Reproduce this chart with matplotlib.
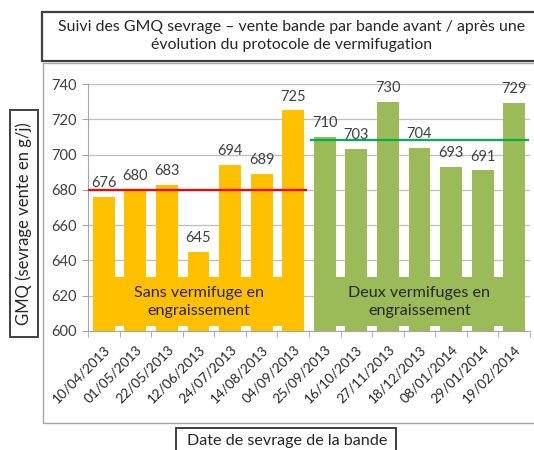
import matplotlib
matplotlib.use("Agg")
import matplotlib.pyplot as plt
from matplotlib.patches import Rectangle
import numpy as np

plt.rcParams['font.family'] = ['Lato', 'DejaVu Sans']

dates = ["10/04/2013", "01/05/2013", "22/05/2013", "12/06/2013", "24/07/2013",
         "14/08/2013", "04/09/2013", "25/09/2013", "16/10/2013", "27/11/2013",
         "18/12/2013", "08/01/2014", "29/01/2014", "19/02/2014"]
gmq = [676, 680, 683, 645, 694, 689, 725, 710, 703, 730, 704, 693, 691, 729]
n_before = 7
mean_before = 680
mean_after = 708
y_ticks = [600, 620, 640, 660, 680, 700, 720, 740]

title = "Suivi des GMQ sevrage – vente bande par bande avant / après une\névolution du protocole de vermifugation"
ylabel = "GMQ (sevrage vente en g/j)"
xlabel = "Date de sevrage de la bande"
group_labels = ["Sans vermifuge en\nengraissement", "Deux vermifuges en\nengraissement"]

orange = "#FFC000"
green = "#9BBB59"

W, H = 534, 450
fig = plt.figure(figsize=(W / 100, H / 100), dpi=100)

def fx(px):
    return px / W

def fy(py):
    return 1 - py / H

# outer chart frame
fig.patches.append(Rectangle((fx(43), fy(423)), fx(600) - fx(43), fy(63) - fy(423),
                             transform=fig.transFigure, fill=False, edgecolor="#A6A6A6", lw=1.0))
# title box
fig.patches.append(Rectangle((fx(42), fy(61)), fx(600) - fx(42), fy(12) - fy(61),
                             transform=fig.transFigure, facecolor="white", edgecolor="#404040", lw=1.6))
fig.text(fx(292), fy(36), title, ha="center", va="center", fontsize=11.4, color="#262626",
         linespacing=1.3)

ax = fig.add_axes([fx(88), fy(331), fx(530) - fx(88), fy(84) - fy(331)])
x = np.arange(len(gmq))
colors = [orange] * n_before + [green] * (len(gmq) - n_before)
bw = 0.69
ax.bar(x, np.array(gmq) - 600, bottom=600, width=bw, color=colors, zorder=2)
ax.set_ylim(600, 740)
ax.set_xlim(-0.5, len(gmq) - 0.5)
ax.set_yticks(y_ticks)
ax.yaxis.grid(True, color="#BFBFBF", lw=0.9, zorder=0)
ax.set_axisbelow(True)
for s in ["top", "right"]:
    ax.spines[s].set_visible(False)
for s in ["left", "bottom"]:
    ax.spines[s].set_color("#A6A6A6")
ax.tick_params(axis="y", labelsize=10.5, labelcolor="#404040", color="#A6A6A6", length=4, pad=4)
ax.set_xticks(x)
ax.set_xticklabels(dates, rotation=45, ha="right", va="top", rotation_mode="anchor",
                   fontsize=9.8, color="#262626")
ax.tick_params(axis="x", length=0, pad=9)
ax.set_xticks(np.arange(-0.5, len(gmq), 1.0), minor=True)
ax.tick_params(axis="x", which="minor", length=4, color="#A6A6A6")

for xi, v in zip(x, gmq):
    ax.annotate(str(v), (xi, v), xytext=(0, 5), textcoords="offset points",
                ha="center", va="bottom", fontsize=10.5, color="#404040", zorder=4)

# mean lines
ax.plot([-0.5, n_before - 1 + bw / 2 + 0.05], [mean_before, mean_before], color="#FF0000", lw=1.6, zorder=3)
ax.plot([n_before - 0.5 + 0.05, len(gmq) - 0.5 - 0.05], [mean_after, mean_after], color="#00B050", lw=1.6, zorder=3)

# group overlays
groups = [(0, n_before - 1, orange, group_labels[0]),
          (n_before, len(gmq) - 1, green, group_labels[1])]
for i0, i1, c, lab in groups:
    x0 = i0 - bw / 2
    x1 = i1 + bw / 2
    ax.add_patch(Rectangle((x0, 602.8), x1 - x0, 630.6 - 602.8, facecolor=c, edgecolor="none", zorder=3))
    ax.text((x0 + x1) / 2, 616.5, lab, ha="center", va="center", fontsize=11.6,
            color="#262626", zorder=4, linespacing=1.3)

# y label box
fig.patches.append(Rectangle((fx(10), fy(337)), fx(38) - fx(10), fy(110) - fy(337),
                             transform=fig.transFigure, fill=False, edgecolor="#404040", lw=1.4))
fig.text(fx(24), fy(224), ylabel, rotation=90, ha="center", va="center", fontsize=12, color="#262626")

# x label box
fig.patches.append(Rectangle((fx(176), fy(460)), fx(396) - fx(176), fy(428) - fy(460),
                             transform=fig.transFigure, facecolor="white", edgecolor="#404040", lw=1.4))
fig.text(fx(287), fy(441), xlabel, ha="center", va="center", fontsize=11.6, color="#262626")

fig.savefig("out.png", dpi=100)
